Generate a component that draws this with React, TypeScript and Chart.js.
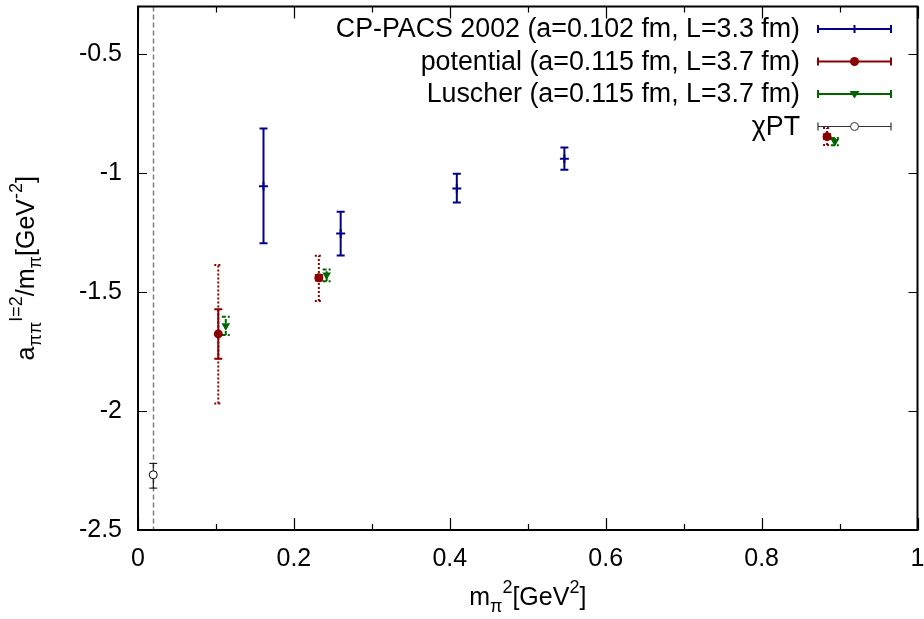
import React, { useEffect, useRef } from "react";
import { Chart, registerables } from "chart.js";
Chart.register(...registerables);

// ---- data ----
const cpX = [0.161, 0.26, 0.409, 0.547];
const cpY = [-1.055, -1.254, -1.065, -0.94];
const cpLo = [-1.295, -1.346, -1.124, -0.986];
const cpHi = [-0.8125, -1.1625, -1.003, -0.893];

const potX = [0.103, 0.232, 0.884];
const potY = [-1.676, -1.44, -0.847];
const potLo = [-1.78, -1.452, -0.857];
const potHi = [-1.572, -1.428, -0.837];
const potSysLo = [-1.968, -1.5375, -0.882];
const potSysHi = [-1.386, -1.347, -0.811];

const luX = [0.1126, 0.242, 0.894];
const luY = [-1.642, -1.428, -0.867];
const luLo = [-1.68, -1.455, -0.883];
const luHi = [-1.604, -1.405, -0.853];

const chiX = [0.0196];
const chiY = [-2.268];
const chiLo = [-2.324];
const chiHi = [-2.22];

const physicalMpi2 = 0.0196;

const xTicks = [0, 0.2, 0.4, 0.6, 0.8, 1];
const xMinorTicks = [0.1, 0.3, 0.5, 0.7, 0.9];
const yTicks = [-2.5, -2, -1.5, -1, -0.5];
const xRange = [0, 1];
const yRange = [-2.5, -0.3];

const seriesLabels = [
  "CP-PACS 2002 (a=0.102 fm, L=3.3 fm)",
  "potential (a=0.115 fm, L=3.7 fm)",
  "Luscher (a=0.115 fm, L=3.7 fm)",
  "\u03c7PT",
];

const BLUE = "#00008b";
const RED = "#8b0000";
const GREEN = "#006400";
const BLACK = "#000000";
const FONT = '"Liberation Sans", Arial, Helvetica, sans-serif';

const pts = (xs: number[], ys: number[]) => xs.map((x, i) => ({ x, y: ys[i] }));

function drawMarker(ctx: CanvasRenderingContext2D, kind: string, x: number, y: number, color: string) {
  ctx.save();
  ctx.setLineDash([]);
  ctx.strokeStyle = color;
  ctx.fillStyle = color;
  if (kind === "cross") {
    ctx.lineWidth = 2;
    ctx.beginPath();
    ctx.moveTo(x - 4, y);
    ctx.lineTo(x + 4, y);
    ctx.moveTo(x, y - 4);
    ctx.lineTo(x, y + 4);
    ctx.stroke();
  } else if (kind === "circle") {
    ctx.beginPath();
    ctx.arc(x, y, 4.5, 0, Math.PI * 2);
    ctx.fill();
  } else if (kind === "triDown") {
    const r = 5;
    ctx.beginPath();
    ctx.moveTo(x - r, y - r * 0.6);
    ctx.lineTo(x + r, y - r * 0.6);
    ctx.lineTo(x, y + r * 0.9);
    ctx.closePath();
    ctx.fill();
  } else if (kind === "open") {
    ctx.lineWidth = 1;
    ctx.fillStyle = "#fff";
    ctx.beginPath();
    ctx.arc(x, y, 4, 0, Math.PI * 2);
    ctx.fill();
    ctx.stroke();
  }
  ctx.restore();
}

type Part = { t: string; s?: "sub" | "sup" };

function richWidth(ctx: CanvasRenderingContext2D, parts: Part[], main: number, small: number) {
  let w = 0;
  for (const p of parts) {
    ctx.font = `${p.s ? small : main}px ${FONT}`;
    w += ctx.measureText(p.t).width;
  }
  return w;
}

function drawRich(ctx: CanvasRenderingContext2D, parts: Part[], x: number, y: number, main: number, small: number) {
  let cx = x;
  ctx.textAlign = "left";
  ctx.textBaseline = "alphabetic";
  for (const p of parts) {
    ctx.font = `${p.s ? small : main}px ${FONT}`;
    const dy = p.s === "sup" ? -12 : p.s === "sub" ? 7 : 0;
    ctx.fillText(p.t, cx, y + dy);
    cx += ctx.measureText(p.t).width;
  }
}

const xTitle: Part[] = [
  { t: "m" },
  { t: "\u03c0", s: "sub" },
  { t: "2", s: "sup" },
  { t: "[GeV" },
  { t: "2", s: "sup" },
  { t: "]" },
];
const yTitle: Part[] = [
  { t: "a" },
  { t: "\u03c0\u03c0", s: "sub" },
  { t: "I=2", s: "sup" },
  { t: "/m" },
  { t: "\u03c0", s: "sub" },
  { t: "[GeV" },
  { t: "-2", s: "sup" },
  { t: "]" },
];

const framePlugin = {
  id: "frame",
  beforeDatasetsDraw(chart: any) {
    const { ctx, chartArea: a, scales } = chart;
    const xs = scales.x;
    const ys = scales.y;
    ctx.save();
    ctx.strokeStyle = "#808080";
    ctx.lineWidth = 1.5;
    ctx.setLineDash([5, 3]);
    const px = Math.round(xs.getPixelForValue(physicalMpi2)) + 0.5;
    ctx.beginPath();
    ctx.moveTo(px, a.top);
    ctx.lineTo(px, a.bottom);
    ctx.stroke();
    ctx.setLineDash([]);
    ctx.strokeStyle = BLACK;
    ctx.lineWidth = 1.2;
    ctx.beginPath();
    for (const v of xTicks) {
      const p = Math.round(xs.getPixelForValue(v)) + 0.5;
      ctx.moveTo(p, a.bottom);
      ctx.lineTo(p, a.bottom - 12);
      ctx.moveTo(p, a.top);
      ctx.lineTo(p, a.top + 12);
    }
    for (const v of xMinorTicks) {
      const p = Math.round(xs.getPixelForValue(v)) + 0.5;
      ctx.moveTo(p, a.bottom);
      ctx.lineTo(p, a.bottom - 6);
      ctx.moveTo(p, a.top);
      ctx.lineTo(p, a.top + 6);
    }
    for (const v of yTicks) {
      const p = Math.round(ys.getPixelForValue(v)) + 0.5;
      ctx.moveTo(a.left, p);
      ctx.lineTo(a.left + 9, p);
      ctx.moveTo(a.right, p);
      ctx.lineTo(a.right - 9, p);
    }
    ctx.stroke();
    ctx.lineWidth = 2;
    ctx.strokeRect(a.left, a.top, a.right - a.left, a.bottom - a.top);
    ctx.restore();
  },
};

const errorBarPlugin = {
  id: "errorBars",
  beforeDatasetsDraw(chart: any) {
    const { ctx, chartArea: a, scales } = chart;
    const xs = scales.x;
    const ys = scales.y;
    ctx.save();
    ctx.beginPath();
    ctx.rect(a.left, a.top, a.right - a.left, a.bottom - a.top);
    ctx.clip();
    chart.data.datasets.forEach((ds: any) => {
      (ds.errorBars || []).forEach((b: any) => {
        ctx.strokeStyle = b.color;
        ctx.lineWidth = b.width;
        ctx.setLineDash(b.dash || []);
        ds.data.forEach((p: any, i: number) => {
          const px = xs.getPixelForValue(p.x);
          const yl = ys.getPixelForValue(b.lo[i]);
          const yh = ys.getPixelForValue(b.hi[i]);
          const c = b.cap;
          ctx.beginPath();
          ctx.moveTo(px, yl);
          ctx.lineTo(px, yh);
          ctx.moveTo(px - c, yl);
          ctx.lineTo(px + c, yl);
          ctx.moveTo(px - c, yh);
          ctx.lineTo(px + c, yh);
          ctx.stroke();
        });
      });
    });
    ctx.restore();
  },
};

const decorPlugin = {
  id: "decor",
  afterDraw(chart: any) {
    const { ctx, chartArea: a } = chart;
    ctx.save();
    ctx.fillStyle = BLACK;
    const wX = richWidth(ctx, xTitle, 25, 18);
    drawRich(ctx, xTitle, (a.left + a.right) / 2 - wX / 2, 605, 25, 18);
    const wY = richWidth(ctx, yTitle, 25, 18);
    ctx.translate(34, (a.top + a.bottom) / 2);
    ctx.rotate(-Math.PI / 2);
    drawRich(ctx, yTitle, -wY / 2, 0, 25, 18);
    ctx.restore();

    ctx.save();
    const rows = chart.data.datasets;
    rows.forEach((ds: any, i: number) => {
      const yRow = 29 + i * 32.5;
      ctx.font = `26.8px ${FONT}`;
      ctx.fillStyle = BLACK;
      ctx.textAlign = "right";
      ctx.textBaseline = "middle";
      ctx.fillText(ds.label, 800, yRow + 1);
      const x0 = 818;
      const x1 = 891;
      ctx.strokeStyle = ds.legendColor;
      ctx.lineWidth = ds.legendWidth;
      ctx.setLineDash([]);
      ctx.beginPath();
      ctx.moveTo(x0, yRow);
      ctx.lineTo(x1, yRow);
      ctx.moveTo(x0, yRow - 4);
      ctx.lineTo(x0, yRow + 4);
      ctx.moveTo(x1, yRow - 4);
      ctx.lineTo(x1, yRow + 4);
      ctx.stroke();
      drawMarker(ctx, ds.legendMarker, (x0 + x1) / 2, yRow, ds.legendColor);
    });
    ctx.restore();
  },
};

export default function App() {
  const ref = useRef<HTMLCanvasElement | null>(null);
  useEffect(() => {
    if (!ref.current) return;
    const chart = new Chart(ref.current, {
      type: "scatter",
      data: {
        datasets: [
          {
            label: seriesLabels[0],
            data: pts(cpX, cpY),
            pointStyle: "cross",
            pointRadius: 4.5,
            borderColor: BLUE,
            backgroundColor: BLUE,
            borderWidth: 2,
            errorBars: [{ lo: cpLo, hi: cpHi, color: BLUE, width: 2, cap: 4 }],
            legendColor: BLUE,
            legendWidth: 2,
            legendMarker: "cross",
          } as any,
          {
            label: seriesLabels[1],
            data: pts(potX, potY),
            pointStyle: "circle",
            pointRadius: 4.5,
            borderColor: RED,
            backgroundColor: RED,
            borderWidth: 0,
            errorBars: [
              { lo: potSysLo, hi: potSysHi, color: RED, width: 2, cap: 4, dash: [2, 2] },
              { lo: potLo, hi: potHi, color: RED, width: 2, cap: 4 },
            ],
            legendColor: RED,
            legendWidth: 2,
            legendMarker: "circle",
          } as any,
          {
            label: seriesLabels[2],
            data: pts(luX, luY),
            pointStyle: "triangle",
            rotation: 180,
            pointRadius: 5,
            borderColor: GREEN,
            backgroundColor: GREEN,
            borderWidth: 0,
            errorBars: [{ lo: luLo, hi: luHi, color: GREEN, width: 2, cap: 4, dash: [4, 2] }],
            legendColor: GREEN,
            legendWidth: 2,
            legendMarker: "triDown",
          } as any,
          {
            label: seriesLabels[3],
            data: pts(chiX, chiY),
            pointStyle: "circle",
            pointRadius: 4,
            borderColor: BLACK,
            backgroundColor: "#ffffff",
            borderWidth: 1,
            errorBars: [{ lo: chiLo, hi: chiHi, color: BLACK, width: 1, cap: 4 }],
            legendColor: "#333333",
            legendWidth: 1.2,
            legendMarker: "open",
          } as any,
        ],
      },
      options: {
        animation: false,
        responsive: false,
        devicePixelRatio: 1,
        events: [],
        layout: { padding: { top: 2, right: 4, left: 0, bottom: 0 } },
        plugins: { legend: { display: false }, tooltip: { enabled: false } },
        scales: {
          x: {
            type: "linear",
            min: xRange[0],
            max: xRange[1],
            grid: { display: false, drawTicks: false },
            border: { display: false },
            afterBuildTicks: (s: any) => {
              s.ticks = xTicks.map((v) => ({ value: v }));
            },
            afterFit: (s: any) => {
              s.height = 89;
              s.paddingLeft = 0;
              s.paddingRight = 0;
              s.paddingTop = 0;
              s.paddingBottom = 0;
            },
            ticks: {
              padding: 14,
              maxRotation: 0,
              autoSkip: false,
              color: BLACK,
              font: { family: FONT, size: 25 },
              callback: (v: any) => String(v),
            },
          },
          y: {
            type: "linear",
            min: yRange[0],
            max: yRange[1],
            grid: { display: false, drawTicks: false },
            border: { display: false },
            afterBuildTicks: (s: any) => {
              s.ticks = yTicks.map((v) => ({ value: v }));
            },
            afterFit: (s: any) => {
              s.width = 138;
              s.paddingLeft = 0;
              s.paddingRight = 0;
              s.paddingTop = 0;
              s.paddingBottom = 0;
            },
            ticks: {
              padding: 16,
              autoSkip: false,
              color: BLACK,
              font: { family: FONT, size: 25 },
              callback: (v: any) => String(v),
            },
          },
        },
      } as any,
      plugins: [framePlugin, errorBarPlugin, decorPlugin],
    });
    return () => chart.destroy();
  }, []);

  return (
    <div style={{ position: "absolute", left: 0, top: 0, width: 924, height: 619, background: "#fff" }}>
      <canvas ref={ref} width={924} height={619} style={{ display: "block", width: 924, height: 619 }} />
    </div>
  );
}
